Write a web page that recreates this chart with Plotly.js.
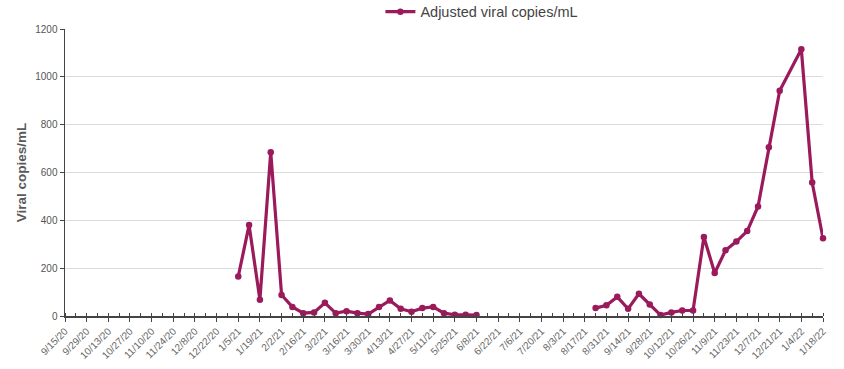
<!DOCTYPE html>
<html>
<head>
<meta charset="utf-8">
<script src="https://cdn.plot.ly/plotly-3.0.1.min.js"></script>
<style>html,body{margin:0;padding:0;background:#fff;}#chart{width:844px;height:369px;}</style>
</head>
<body>
<div id="chart"></div>
<script>
// Weekly sample dates (null value marks the reporting gap)
const dates = [
  '2021-01-05','2021-01-12','2021-01-19','2021-01-26','2021-02-02','2021-02-09','2021-02-16','2021-02-23',
  '2021-03-02','2021-03-09','2021-03-16','2021-03-23','2021-03-30','2021-04-06','2021-04-13','2021-04-20',
  '2021-04-27','2021-05-04','2021-05-11','2021-05-18','2021-05-25','2021-06-01','2021-06-08',
  '2021-06-15',
  '2021-08-24','2021-08-31','2021-09-07','2021-09-14','2021-09-21','2021-09-28','2021-10-05','2021-10-12',
  '2021-10-19','2021-10-26','2021-11-02','2021-11-09','2021-11-16','2021-11-23','2021-11-30','2021-12-07',
  '2021-12-14','2021-12-21','2022-01-04','2022-01-11','2022-01-18'
];
const copies = [
  165, 380, 68, 685, 88, 38, 12, 15,
  55, 12, 20, 12, 8, 38, 65, 30,
  18, 33, 38, 12, 5, 5, 4,
  null,
  33, 45, 80, 30, 93, 48, 4, 15,
  23, 23, 330, 180, 275, 311, 355, 458,
  706, 942, 1115, 558, 325
];
const seriesName = 'Adjusted viral copies/mL';
const yTitle = 'Viral copies/mL';

const color = '#9a1a5c';
const font = 'Liberation Sans, Arial, Helvetica, sans-serif';

Plotly.newPlot('chart', [{
  x: dates, y: copies, name: seriesName, type: 'scatter', mode: 'lines+markers',
  connectgaps: false, cliponaxis: false,
  line: {color: color, width: 3.2},
  marker: {color: color, size: 6.5}
}], {
  width: 844, height: 369,
  margin: {l: 65, r: 21, t: 29, b: 53, autoexpand: false},
  paper_bgcolor: '#fff', plot_bgcolor: '#fff',
  font: {family: font, color: '#555'},
  showlegend: true,
  legend: {orientation: 'h', x: 0.55, xanchor: 'center', y: 1.06, yanchor: 'middle',
           font: {size: 14.5, color: '#444'}, bgcolor: 'rgba(0,0,0,0)'},
  xaxis: {
    type: 'date', range: ['2020-09-15', '2022-01-18'],
    tick0: '2020-09-15', dtick: 14 * 86400000, tickformat: '%-m/%-d/%y',
    tickangle: -45, tickfont: {size: 10, color: '#666'},
    showgrid: false, zeroline: false,
    showline: true, linecolor: '#444', linewidth: 1.5,
    ticks: 'outside', ticklen: 4, tickcolor: '#444', tickwidth: 1,
    minor: {dtick: 7 * 86400000, tick0: '2020-09-15', ticks: 'inside', ticklen: 3, tickcolor: '#444', showgrid: false}
  },
  yaxis: {
    range: [0, 1200], dtick: 200,
    tickfont: {size: 10, color: '#555'},
    showgrid: true, gridcolor: '#dcdcdc', gridwidth: 1,
    zeroline: false, showline: true, linecolor: '#444', linewidth: 1.5,
    ticks: 'outside', ticklen: 4, tickcolor: '#444',
    title: {text: yTitle, font: {size: 13.5, color: '#595959', family: 'Liberation Sans, Arial, sans-serif', weight: 'bold'}, standoff: 5}
  }
}, {displayModeBar: false, staticPlot: true});
</script>
</body>
</html>
